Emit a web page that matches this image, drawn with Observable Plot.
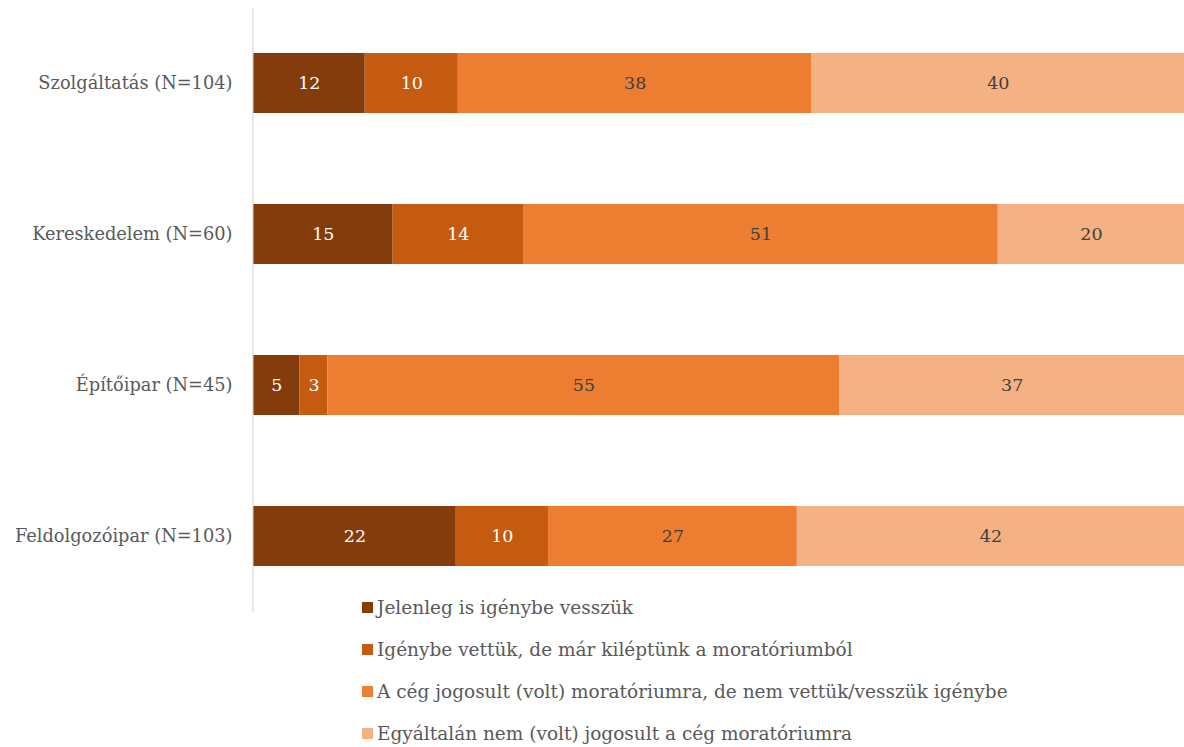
<!DOCTYPE html>
<html>
<head>
<meta charset="utf-8">
<script src="https://cdn.jsdelivr.net/npm/d3@7"></script>
<script src="https://cdn.jsdelivr.net/npm/@observablehq/plot@0.6"></script>
<style>
  html, body { margin: 0; padding: 0; background: #fff; }
  body { width: 1184px; height: 747px; overflow: hidden; font-family: "DejaVu Serif", serif; }
  #legend { margin-top: -26px; margin-left: 362px; }
  .item { display: flex; align-items: center; height: 42px; font-size: 18.5px; color: #595959; }
  .sw { width: 11px; height: 11px; margin-right: 4px; flex: none; }
</style>
</head>
<body>
<div id="chart"></div>
<div id="legend"></div>
<script>
const categories = ["Szolgáltatás (N=104)", "Kereskedelem (N=60)", "Építőipar (N=45)", "Feldolgozóipar (N=103)"];
const seriesNames = [
  "Jelenleg is igénybe vesszük",
  "Igénybe vettük, de már kiléptünk a moratóriumból",
  "A cég jogosult (volt) moratóriumra, de nem vettük/vesszük igénybe",
  "Egyáltalán nem (volt) jogosult a cég moratóriumra"
];
const seriesColors = ["#843C0C", "#C55A11", "#ED7D31", "#F4B183"];
const labelColors = ["#ffffff", "#ffffff", "#404040", "#404040"];
const jelenleg = [12, 15, 5, 22];
const kilepett = [10, 14, 3, 10];
const jogosultNem = [38, 51, 55, 27];
const nemJogosult = [40, 20, 37, 42];

const seriesValues = [jelenleg, kilepett, jogosultNem, nemJogosult];
const data = [];
categories.forEach((c, i) => {
  seriesNames.forEach((s, j) => {
    data.push({cat: c, series: s, value: seriesValues[j][i], j});
  });
});

const chart = Plot.plot({
  width: 1184,
  height: 612,
  marginTop: 8,
  marginBottom: 0,
  marginLeft: 253,
  marginRight: 0,
  style: {fontFamily: "DejaVu Serif, serif", background: "#fff"},
  x: {axis: null},
  y: {domain: categories, paddingInner: 0.6, paddingOuter: 0.3, label: null},
  color: {domain: seriesNames, range: seriesColors},
  marks: [
    Plot.axisY({tickSize: 0, tickPadding: 21, fontSize: 17.8, color: "#595959", label: null}),
    Plot.barX(data, Plot.stackX({offset: "normalize", order: null, x: "value", y: "cat", fill: "series"})),
    Plot.ruleX([0], {stroke: "#d9d9d9", strokeWidth: 1.2, dx: -0.6}),
    Plot.text(data, Plot.stackX({offset: "normalize", order: null, x: "value", y: "cat", z: "series", text: d => String(d.value), fill: d => labelColors[d.j], fontSize: 17.5}))
  ]
});
document.getElementById("chart").appendChild(chart);

const legend = document.getElementById("legend");
seriesNames.forEach((s, j) => {
  const it = document.createElement("div");
  it.className = "item";
  const sw = document.createElement("span");
  sw.className = "sw";
  sw.style.background = seriesColors[j];
  const tx = document.createElement("span");
  tx.textContent = s;
  it.appendChild(sw);
  it.appendChild(tx);
  legend.appendChild(it);
});
</script>
</body>
</html>
